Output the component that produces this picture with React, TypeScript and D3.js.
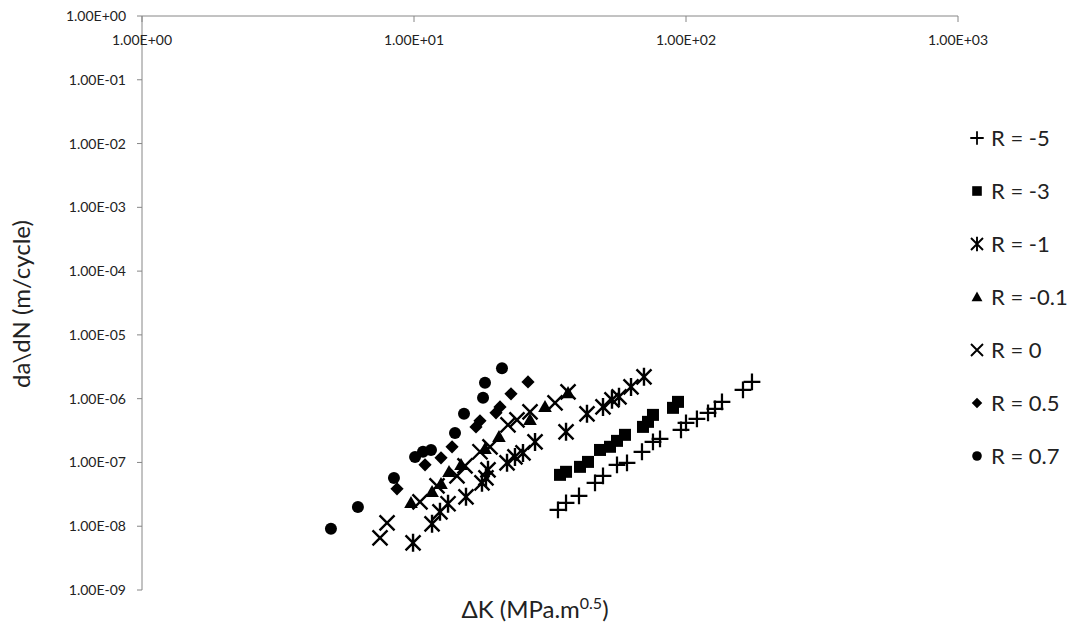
import React from "react";
import * as d3 from "d3";

// Fatigue crack growth rate vs. stress intensity range, by load ratio R
const seriesNames = ["R = -5", "R = -3", "R = -1", "R = -0.1", "R = 0", "R = 0.5", "R = 0.7"];
const seriesMarkers = ["plus", "square", "asterisk", "triangle", "cross", "diamond", "circle"];

const dK_m5 = [33.83, 36.22, 40.42, 46.29, 49.53, 55.76, 60.69, 68.89, 75.61, 80.26, 95.85, 100, 109.7, 120.5, 127.8, 135.6, 162.0, 174.8];
const dadN_m5 = [1.81e-8, 2.33e-8, 2.99e-8, 4.79e-8, 6.17e-8, 9.17e-8, 9.86e-8, 1.47e-7, 2.1e-7, 2.34e-7, 3.24e-7, 4.18e-7, 4.82e-7, 5.99e-7, 6.92e-7, 8.91e-7, 1.37e-6, 1.83e-6];

const dK_m3 = [34.42, 36.22, 40.76, 43.62, 48.29, 52.55, 55.76, 59.66, 69.48, 72.49, 75.61, 89.58, 93.45];
const dadN_m3 = [6.39e-8, 7.13e-8, 8.53e-8, 1.02e-7, 1.57e-7, 1.76e-7, 2.18e-7, 2.71e-7, 3.61e-7, 4.33e-7, 5.57e-7, 7.18e-7, 8.91e-7];

const dK_m1 = [9.92, 11.65, 12.46, 13.34, 15.53, 17.78, 18.39, 18.71, 21.98, 23.51, 25.16, 27.86, 36.22, 43.25, 49.53, 53.44, 56.71, 62.79, 70.07];
const dadN_m1 = [5.5e-9, 1.09e-8, 1.68e-8, 2.25e-8, 2.89e-8, 4.79e-8, 5.74e-8, 7.66e-8, 9.86e-8, 1.22e-7, 1.41e-7, 2.1e-7, 3.02e-7, 5.78e-7, 7.43e-7, 9.58e-7, 1.07e-6, 1.53e-6, 2.2e-6];

const dK_m01 = [9.75, 11.65, 12.57, 13.45, 14.89, 18.24, 20.53, 26.7, 30.31, 36.84];
const dadN_m01 = [2.33e-8, 3.46e-8, 4.62e-8, 7.13e-8, 9.17e-8, 1.63e-7, 2.52e-7, 4.65e-7, 7.43e-7, 1.23e-6];

const dK_0 = [7.5, 7.96, 10.52, 12.15, 14.39, 15.4, 17.48, 19.03, 22.16, 23.91, 26.7, 33.0, 36.84];
const dadN_0 = [6.58e-9, 1.13e-8, 2.41e-8, 4.3e-8, 6.17e-8, 8.85e-8, 1.47e-7, 1.76e-7, 3.88e-7, 4.65e-7, 6.21e-7, 8.59e-7, 1.28e-6];

const dK_05 = [8.66, 10.98, 12.57, 13.8, 16.9, 17.48, 20.02, 20.71, 22.73, 26.25];
const dadN_05 = [3.86e-8, 9.17e-8, 1.18e-7, 1.76e-7, 3.61e-7, 4.49e-7, 5.99e-7, 7.43e-7, 1.19e-6, 1.83e-6];

const dK_07 = [4.95, 6.22, 8.44, 10.09, 10.79, 11.55, 14.15, 15.27, 17.94, 18.24, 21.06];
const dadN_07 = [9.1e-9, 2.0e-8, 5.7e-8, 1.22e-7, 1.47e-7, 1.57e-7, 2.9e-7, 5.8e-7, 1.03e-6, 1.77e-6, 3.0e-6];

const xSeries = [dK_m5, dK_m3, dK_m1, dK_m01, dK_0, dK_05, dK_07];
const ySeries = [dadN_m5, dadN_m3, dadN_m1, dadN_m01, dadN_0, dadN_05, dadN_07];

const xTicks = [1, 10, 100, 1000];
const yTicks = [1, 1e-1, 1e-2, 1e-3, 1e-4, 1e-5, 1e-6, 1e-7, 1e-8, 1e-9];

const W = 1075;
const H = 634;
const FONT = "Lato, 'Liberation Sans', sans-serif";
const AXIS = "#868686";

const x = d3.scaleLog().domain([1, 1000]).range([142, 958]);
const y = d3.scaleLog().domain([1e-9, 1]).range([590, 16]);

const sci = (v: number) => {
  const e = Math.round(Math.log10(v));
  const sign = e < 0 ? "-" : "+";
  return `1.00E${sign}${String(Math.abs(e)).padStart(2, "0")}`;
};

function Marker({ kind, cx, cy, s }: { kind: string; cx: number; cy: number; s: number }) {
  const h = s / 2;
  const sw = Math.max(1.8, s * 0.16);
  switch (kind) {
    case "circle":
      return <circle cx={cx} cy={cy} r={h} fill="#000" />;
    case "square":
      return <rect x={cx - h} y={cy - h} width={s} height={s} fill="#000" />;
    case "diamond":
      return <path d={`M${cx},${cy - h * 1.1}L${cx + h * 1.1},${cy}L${cx},${cy + h * 1.1}L${cx - h * 1.1},${cy}Z`} fill="#000" />;
    case "triangle":
      return <path d={`M${cx},${cy - h * 1.05}L${cx + h * 1.05},${cy + h * 0.8}L${cx - h * 1.05},${cy + h * 0.8}Z`} fill="#000" />;
    case "plus":
      return (
        <path d={`M${cx - h * 1.2},${cy}H${cx + h * 1.2}M${cx},${cy - h * 1.2}V${cy + h * 1.2}`} stroke="#000" strokeWidth={sw} fill="none" />
      );
    case "cross":
      return (
        <path d={`M${cx - h},${cy - h}L${cx + h},${cy + h}M${cx - h},${cy + h}L${cx + h},${cy - h}`} stroke="#000" strokeWidth={sw} fill="none" />
      );
    case "asterisk":
      return (
        <path
          d={`M${cx - h},${cy - h}L${cx + h},${cy + h}M${cx - h},${cy + h}L${cx + h},${cy - h}M${cx},${cy - h * 1.2}V${cy + h * 1.2}`}
          stroke="#000"
          strokeWidth={sw}
          fill="none"
        />
      );
    default:
      return null;
  }
}

const markerSize: Record<string, number> = {
  circle: 12,
  square: 12,
  diamond: 12,
  triangle: 13,
  plus: 14,
  cross: 15,
  asterisk: 15,
};

export default function App() {
  const legendTop = 138;
  const legendStep = 53;
  return (
    <svg width={W} height={H} style={{ position: "absolute", left: 0, top: 0, background: "#fff" }} fontFamily={FONT}>
      <rect width={W} height={H} fill="#fff" />
      {/* axes */}
      <line x1={x(1)} x2={x(1000)} y1={y(1)} y2={y(1)} stroke={AXIS} strokeWidth={1} />
      <line x1={x(1)} x2={x(1)} y1={y(1)} y2={y(1e-9)} stroke={AXIS} strokeWidth={1} />
      {xTicks.map((t) => (
        <g key={"xt" + t}>
          <line x1={x(t)} x2={x(t)} y1={y(1)} y2={y(1) + 6} stroke={AXIS} />
          <text x={x(t)} y={y(1) + 29} fontSize={14} textAnchor="middle" fill="#222">
            {sci(t)}
          </text>
        </g>
      ))}
      {yTicks.map((t) => (
        <g key={"yt" + t}>
          <line x1={x(1) - 5} x2={x(1)} y1={y(t)} y2={y(t)} stroke={AXIS} />
          <text x={x(1) - 16} y={y(t) + 5} fontSize={14} textAnchor="end" fill="#222">
            {sci(t)}
          </text>
        </g>
      ))}

      {/* data */}
      {xSeries.map((xs, i) =>
        xs.map((v, j) => (
          <Marker key={`${i}-${j}`} kind={seriesMarkers[i]} cx={x(v)} cy={y(ySeries[i][j])} s={markerSize[seriesMarkers[i]]} />
        ))
      )}

      {/* legend */}
      {seriesNames.map((name, i) => (
        <g key={name}>
          <Marker kind={seriesMarkers[i]} cx={977} cy={legendTop + i * legendStep} s={markerSize[seriesMarkers[i]] * 0.8} />
          <text x={991} y={legendTop + i * legendStep + 8} fontSize={22} fill="#222">
            {name}
          </text>
        </g>
      ))}

      {/* axis titles */}
      <text transform="translate(30,304) rotate(-90)" fontSize={24} textAnchor="middle" fill="#222">
        da\dN (m/cycle)
      </text>
      <text x={535} y={618} fontSize={24} textAnchor="middle" fill="#222">
        ΔK (MPa.m
        <tspan dy={-9} fontSize={16}>0.5</tspan>
        <tspan dy={9}>)</tspan>
      </text>
    </svg>
  );
}
